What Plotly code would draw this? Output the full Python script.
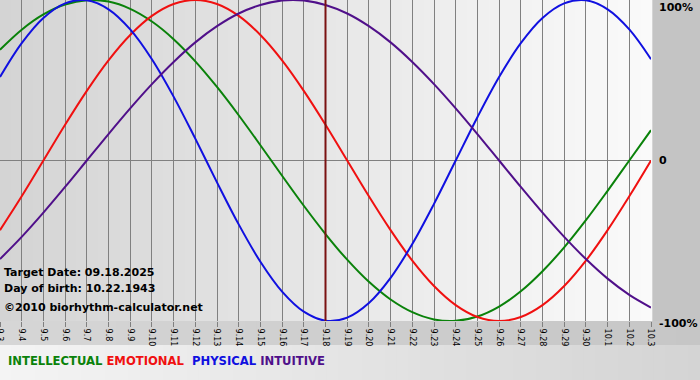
import plotly.graph_objects as go

days = ["9.3", "9.4", "9.5", "9.6", "9.7", "9.8", "9.9", "9.10", "9.11", "9.12",
        "9.13", "9.14", "9.15", "9.16", "9.17", "9.18", "9.19", "9.20", "9.21", "9.22",
        "9.23", "9.24", "9.25", "9.26", "9.27", "9.28", "9.29", "9.30", "10.1", "10.2", "10.3"]

intellectual = [0.690, 0.815, 0.910, 0.972, 0.999, 0.990, 0.945, 0.866, 0.756, 0.618,
                0.458, 0.282, 0.095, -0.095, -0.282, -0.458, -0.618, -0.756, -0.866, -0.945,
                -0.990, -0.999, -0.972, -0.910, -0.815, -0.690, -0.541, -0.372, -0.189, 0.000, 0.189]
emotional = [-0.434, -0.223, 0.000, 0.223, 0.434, 0.624, 0.782, 0.901, 0.975, 1.000,
             0.975, 0.901, 0.782, 0.624, 0.434, 0.223, 0.000, -0.223, -0.434, -0.624,
             -0.782, -0.901, -0.975, -1.000, -0.975, -0.901, -0.782, -0.624, -0.434, -0.223, 0.000]
physical = [0.520, 0.731, 0.888, 0.979, 0.998, 0.942, 0.817, 0.631, 0.398, 0.136,
            -0.136, -0.398, -0.631, -0.817, -0.942, -0.998, -0.979, -0.888, -0.731, -0.520,
            -0.270, 0.000, 0.270, 0.520, 0.731, 0.888, 0.979, 0.998, 0.942, 0.817, 0.631]
intuitive = [-0.614, -0.476, -0.325, -0.165, 0.000, 0.165, 0.325, 0.476, 0.614, 0.736,
             0.837, 0.916, 0.969, 0.997, 0.997, 0.969, 0.916, 0.837, 0.736, 0.614,
             0.476, 0.325, 0.165, 0.000, -0.165, -0.325, -0.476, -0.614, -0.736, -0.837, -0.916]

target_day = "9.18"
target_text = "Target Date: 09.18.2025"
birth_text = "Day of birth: 10.22.1943"
copyright_text = "©2010 biorhythm-calculator.net"
series_names = ["INTELLECTUAL", "EMOTIONAL", "PHYSICAL", "INTUITIVE"]
series_colors = ["#0a820a", "#f01010", "#1010e0", "#50108a"]
right_labels = ["100%", "0", "-100%"]
right_values = [1, 0, -1]

FONT = "Verdana, DejaVu Sans, sans-serif"

fig = go.Figure()

for name, vals, col in zip(series_names, [intellectual, emotional, physical, intuitive], series_colors):
    fig.add_trace(go.Scatter(x=days, y=vals, mode="lines", name=name,
                             line=dict(color=col, width=2, shape="spline", smoothing=1.0),
                             hoverinfo="skip"))

fig.add_trace(go.Scatter(x=[target_day, target_day], y=[-1.05, 1.05], mode="lines",
                         line=dict(color="#7a1212", width=2), hoverinfo="skip"))

W = 651.0
H = 321.0
shapes = []
n = 60
# plot area gradient (left gray -> right white)
c0, c1 = 0xd4, 0xfa
for i in range(n):
    c = int(round(c0 + (c1 - c0) * i / (n - 1)))
    shapes.append(dict(type="rect", xref="paper", yref="paper", x0=i / n, x1=(i + 1) / n + 0.002,
                       y0=0, y1=1, fillcolor=f"rgb({c},{c},{c})", line=dict(width=0), layer="below"))
# x-label strip gradient
for i in range(n):
    c = int(round(0xd6 + (0xc6 - 0xd6) * i / (n - 1)))
    shapes.append(dict(type="rect", xref="paper", yref="paper", x0=i / n * (700 / W),
                       x1=(i + 1) / n * (700 / W) + 0.003,
                       y0=(H - 345) / H, y1=0, fillcolor=f"rgb({c},{c},{c})", line=dict(width=0), layer="below"))
# legend strip gradient
for i in range(n):
    c = int(round(0xf4 + (0xd4 - 0xf4) * i / (n - 1)))
    shapes.append(dict(type="rect", xref="paper", yref="paper", x0=i / n * (700 / W),
                       x1=(i + 1) / n * (700 / W) + 0.003,
                       y0=(H - 381) / H, y1=(H - 345) / H, fillcolor=f"rgb({c},{c},{c})",
                       line=dict(width=0), layer="below"))

annotations = []
for lab, v in zip(right_labels, right_values):
    ys = -7 if v == 1 else (-2 if v == -1 else 0)
    annotations.append(dict(xref="paper", yref="y", x=1, y=v, xanchor="left", yanchor="middle",
                            xshift=6, yshift=ys, text=f"<b>{lab}</b>", showarrow=False,
                            font=dict(family=FONT, size=11, color="#000000")))

for txt, py in [(target_text, 272), (birth_text, 288), (copyright_text, 307)]:
    annotations.append(dict(xref="paper", yref="paper", x=0, y=(H - py) / H, xanchor="left", yanchor="middle",
                            xshift=2, text=f"<b>{txt}</b>", showarrow=False,
                            font=dict(family=FONT, size=11, color="#000000")))

legend_html = (f'<span style="color:{series_colors[0]}">{series_names[0]}</span> '
               f'<span style="color:{series_colors[1]}">{series_names[1]}</span>  '
               f'<span style="color:{series_colors[2]}">{series_names[2]}</span> '
               f'<span style="color:{series_colors[3]}">{series_names[3]}</span>')
annotations.append(dict(xref="paper", yref="paper", x=0, y=(H - 361) / H, xanchor="left", yanchor="middle",
                        xshift=6, text=f"<b>{legend_html}</b>", showarrow=False,
                        font=dict(family=FONT, size=11.6)))

fig.update_layout(
    width=700, height=380,
    margin=dict(l=0, r=49, t=0, b=59, autoexpand=False),
    paper_bgcolor="#c4c4c4",
    plot_bgcolor="rgba(0,0,0,0)",
    showlegend=False,
    shapes=shapes,
    annotations=annotations,
    xaxis=dict(type="category", range=[0, 30], showgrid=True, gridcolor="#808080", gridwidth=1,
               tickmode="linear", dtick=1, ticks="outside", ticklen=5, tickcolor="#808080",
               tickangle=90, tickfont=dict(family=FONT, size=8, color="#000000"),
               showline=False, zeroline=False, fixedrange=True, automargin=False),
    yaxis=dict(range=[-1, 1], showgrid=False, zeroline=True, zerolinecolor="#808080", zerolinewidth=1,
               showticklabels=False, ticks="", showline=False, fixedrange=True, automargin=False),
)

fig.write_html("out.html", config={"displayModeBar": False},
               post_script="document.body.style.margin='0';document.body.style.padding='0';")
